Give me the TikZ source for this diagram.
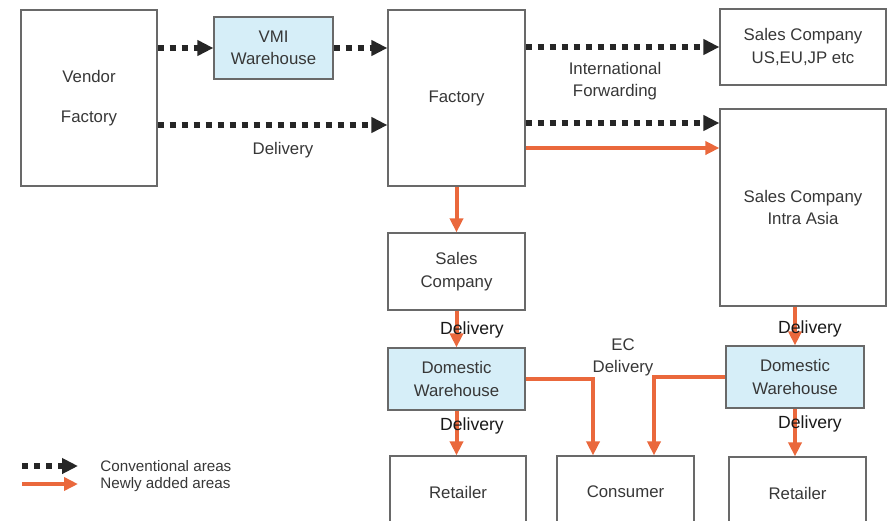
\documentclass[tikz,border=0pt]{standalone}
\usepackage{fontspec}
\setmainfont{Liberation Sans}
\usepackage{tikz}
\usetikzlibrary{arrows.meta,positioning,calc}
\definecolor{boxgray}{RGB}{105,105,105}
\definecolor{txtgray}{RGB}{55,55,55}
\definecolor{whblue}{RGB}{214,238,248}
\definecolor{neworange}{RGB}{234,104,60}
\tikzstyle{box}    = [draw=boxgray, line width=0.6pt, text=txtgray, align=center, inner sep=0pt, font=\fontsize{8.4}{11.2}\selectfont]
\tikzstyle{whbox}  = [box, fill=whblue]
\tikzstyle{conv}   = [line width=3pt, dash pattern=on 3pt off 3pt, black!85, -{Triangle[length=8pt,width=7.5pt]}]
\tikzstyle{newa}   = [line width=2pt, neworange, -{Triangle[length=7pt,width=6.5pt]}]
\tikzstyle{lbl}    = [text=txtgray, align=center, inner sep=1pt, font=\fontsize{8.4}{11}\selectfont]
\tikzstyle{dlv}    = [text=black!90, inner sep=1pt, font=\fontsize{8.8}{11}\selectfont]
\tikzstyle{legtxt} = [text=txtgray, anchor=west, inner sep=0pt, font=\fontsize{7.6}{9}\selectfont]

\begin{document}
\begin{tikzpicture}[x=0.5pt,y=-0.5pt]
        \useasboundingbox (0,0) rectangle (887,520);
        % boxes
        \node[box, minimum width=68pt, minimum height=88pt] (VF) at (89,98) {Vendor\\[9pt]Factory};
        \node[whbox, minimum width=59.5pt, minimum height=31pt] (VMI) at (273.5,48) {VMI\\Warehouse};
        \node[box, minimum width=68.5pt, minimum height=88pt] (FA) at (456.5,98) {Factory};
        \node[box, minimum width=83pt, minimum height=38pt] (SU) at (803,47) {Sales Company\\US,EU,JP etc};
        \node[box, minimum width=83pt, minimum height=98.5pt] (SA) at (803,207.5) {Sales Company\\Intra Asia};
        \node[box, minimum width=68.5pt, minimum height=38.5pt] (SC) at (456.5,271.5) {Sales\\Company};
        \node[whbox, minimum width=68.5pt, minimum height=31pt] (DWL) at (456.5,379) {Domestic\\Warehouse};
        \node[box, minimum width=68pt, minimum height=36pt] (RL) at (458,492) {Retailer};
        \node[box, minimum width=68.5pt, minimum height=36pt] (CO) at (625.5,492) {Consumer};
        \node[whbox, minimum width=69pt, minimum height=31pt] (DWR) at (795,377) {Domestic\\Warehouse};
        \node[box, minimum width=68.5pt, minimum height=36pt] (RR) at (797.5,493) {Retailer};

        % conventional flows
        \draw[conv] (VF.east |- VMI.west) -- (VMI.west);
        \draw[conv] (VMI.east) -- (VMI.east -| FA.west);
        \coordinate (d1) at ($(VF.east)+(0,27)$);
        \draw[conv] (d1) -- (d1 -| FA.west);
        \node[lbl] (L1) at (283,150) {Delivery};
        \draw[conv] (FA.east |- SU.west) -- (SU.west);
        \node[lbl] (L2) at (615,81) {International\\Forwarding};
        \coordinate (d2) at ($(FA.east)+(0,25)$);
        \draw[conv] (d2) -- (d2 -| SA.west);

        % newly added flows
        \coordinate (d3) at ($(FA.east)+(0,50)$);
        \draw[newa] (d3) -- (d3 -| SA.west);
        \draw[newa] (FA.south) -- (SC.north);
        \draw[newa] (SC.south) -- (DWL.north);
        \draw[newa] (DWL.south) -- (DWL.south |- RL.north);
        \draw[newa] (DWL.east) -| ($(CO.north)+(-32.5,0)$);
        \draw[newa] (DWR.west) -| ($(CO.north)+(28.5,0)$);
        \draw[newa] (DWR.north |- SA.south) -- (DWR.north);
        \draw[newa] (DWR.south) -- (DWR.south |- RR.north);
        \node[lbl] (L3) at (623,357) {EC\\Delivery};
        \node[dlv] (L4) at (472,330) {Delivery};
        \node[dlv] (L5) at (472,426) {Delivery};
        \node[dlv] (L6) at (810,329) {Delivery};
        \node[dlv] (L7) at (810,424) {Delivery};

        % legend
        \coordinate (g1) at (22,466);
        \coordinate (g2) at (78,466);
        \coordinate (g3) at (22,484);
        \coordinate (g4) at (78,484);
        \draw[conv] (g1) -- (g2);
        \draw[newa] (g3) -- (g4);
        \node[legtxt] (G1) at (100,466) {Conventional areas};
        \node[legtxt] (G2) at (100,485) {Newly added areas};
    \end{tikzpicture}
\end{document}
